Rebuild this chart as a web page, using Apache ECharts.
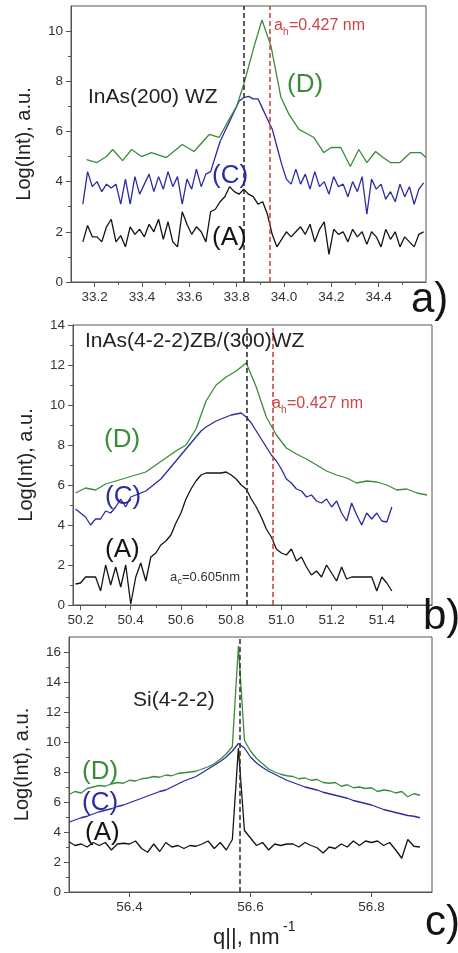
<!DOCTYPE html>
<html><head><meta charset="utf-8">
<script src="https://cdn.jsdelivr.net/npm/echarts@6/dist/echarts.min.js"></script>
<style>html,body{margin:0;padding:0;background:#fff}#c{width:458px;height:953px}</style>
</head><body><div id="c"></div><script>
// ---------- Panel a: InAs(200) WZ ----------
const aStart = 33.15, aStep = 0.02;
const aCurveA = [1.6,2.25,1.8,1.8,1.6,2.2,2.5,1.6,1.85,1.4,
 2.2,1.9,2.1,1.8,2.3,2.0,2.5,1.7,2.4,1.6,
 1.4,2.8,2.3,1.9,2.2,2.0,1.6,2.8,2.9,3.2,
 3.4,3.8,3.6,3.5,3.7,3.5,3.4,3.1,3.2,2.7,
 1.9,1.4,1.7,2.0,1.8,2.0,2.2,1.9,2.3,1.6,
 2.1,2.4,1.1,2.1,1.9,2.0,1.6,2.1,1.8,2.0,
 1.5,2.0,1.8,1.4,2.1,1.7,2.0,1.4,1.8,1.6,
 1.4,1.9,2.0];
const aCurveC = [3.1,4.4,3.8,4.0,3.6,3.9,3.75,3.9,3.1,4.1,
 3.1,4.2,3.5,3.9,4.3,3.6,4.2,3.7,4.4,3.8,
 4.2,3.1,4.1,3.7,4.5,3.8,4.3,4.4,5.0,5.6,
 6.0,6.4,6.8,7.2,7.35,7.4,7.3,7.3,6.9,6.5,
 6.1,5.4,4.7,4.1,3.9,4.5,3.9,4.3,3.7,4.4,
 3.8,4.0,3.5,4.2,3.8,3.9,3.4,4.0,3.6,4.2,
 2.7,4.1,3.7,3.9,3.3,3.6,3.2,3.9,3.4,3.8,
 3.1,3.7,3.95];
const aCurveDx = [33.166,33.21,33.25,33.276,33.318,33.356,33.398,33.44,33.503,33.57,33.62,33.684,33.726,33.768,33.80,33.83,33.874,33.907,33.945,33.987,34.02,34.063,34.10,34.126,34.168,34.2,34.24,34.28,34.316,34.35,34.387,34.42,34.45,34.49,34.535,34.577,34.6];
const aCurveDy = [4.88,4.76,5.0,5.28,4.84,5.28,5.0,5.16,4.96,5.48,5.2,5.88,5.76,6.48,7.0,7.88,9.4,10.44,9.4,7.36,6.7,6.08,5.9,5.76,5.16,5.36,5.36,4.6,5.28,4.76,5.2,4.95,4.76,4.76,5.16,5.16,4.96];
const aRefBlack = 33.83, aRefRed = 33.94;
const aXTicks = [33.2,33.4,33.6,33.8,34.0,34.2,34.4];
const aXMinor = [33.3,33.5,33.7,33.9,34.1,34.3,34.5];
const aYTicks = [0,2,4,6,8,10];
const aYMinor = [1,3,5,7,9];

// ---------- Panel b: InAs(4-2-2)ZB/(300)WZ ----------
const bStart = 50.18, bStep = 0.02;
const bCurveA = [1.05,1.1,1.4,1.4,1.4,0.7,2.0,1.0,1.9,0.9,
 2.0,0.05,1.4,2.1,1.2,2.4,2.6,3.0,3.2,3.5,
 4.1,4.6,5.3,5.8,6.2,6.5,6.6,6.6,6.6,6.6,
 6.65,6.5,6.3,6.0,5.8,5.3,4.9,4.4,3.8,3.4,
 2.8,2.6,2.5,2.8,2.2,2.4,1.9,1.5,1.7,1.4,
 2.0,1.6,1.2,1.9,1.3,1.4,1.4,1.4,1.4,1.4,
 0.7,1.4,1.1,0.7];
const bCurveC = [4.8,4.6,4.4,4.0,4.3,4.3,4.7,4.6,4.9,5.3,
 4.9,5.4,5.5,5.6,5.7,5.9,6.1,6.3,6.6,6.9,
 7.2,7.5,7.8,8.1,8.4,8.7,8.9,9.05,9.2,9.3,
 9.4,9.5,9.55,9.6,9.4,9.1,8.7,8.3,7.9,7.5,
 7.2,6.8,6.3,6.1,5.8,5.7,5.4,5.5,5.2,5.1,
 5.3,4.9,5.2,4.6,4.2,5.1,4.5,4.0,4.6,4.3,
 4.6,4.2,4.15,4.9];
const bDStart = 50.18, bDStep = 0.04;
const bCurveD = [5.6,5.85,5.75,6.05,6.2,6.35,6.5,6.65,7.0,7.35,
 7.7,8.0,8.8,10.2,11.0,11.4,11.7,12.1,10.9,9.4,
 8.5,7.85,7.55,7.3,7.0,6.7,6.5,6.35,6.1,6.2,
 6.15,6.0,5.75,5.8,5.6,5.5];
const bRefBlack = 50.864, bRefRed = 50.964;
const bXTicks = [50.2,50.4,50.6,50.8,51.0,51.2,51.4];
const bXMinor = [50.3,50.5,50.7,50.9,51.1,51.3,51.5];
const bYTicks = [0,2,4,6,8,10,12,14];
const bYMinor = [1,3,5,7,9,11,13];

// ---------- Panel c: Si(4-2-2) ----------
const cStart = 56.30, cStep = 0.01;
const cCurveA = [3.35,3.1,3.2,3.0,3.3,3.1,3.3,2.8,3.2,3.25,
 3.2,3.4,2.9,2.65,3.2,2.7,3.3,3.0,3.1,2.9,
 3.1,3.05,3.2,3.4,2.9,3.3,2.8,3.5,9.6,4.1,
 3.6,3.1,3.3,2.8,3.2,3.1,3.2,3.2,3.0,3.3,
 3.1,2.95,2.6,3.0,2.9,3.2,3.0,3.4,3.1,3.4,
 3.3,3.4,3.1,3.3,2.8,2.25,3.5,3.05,3.0];
const cCurveC = [4.65,4.8,4.95,5.05,5.2,5.35,5.45,5.55,5.7,5.8,
 5.95,6.1,6.25,6.4,6.55,6.7,6.8,7.0,7.2,7.4,
 7.55,7.7,7.95,8.2,8.45,8.7,9.0,9.4,9.9,9.6,
 9.0,8.6,8.3,8.05,7.85,7.65,7.45,7.3,7.15,7.0,
 6.9,6.8,6.65,6.55,6.45,6.35,6.25,6.1,6.0,5.9,
 5.8,5.65,5.5,5.4,5.3,5.2,5.1,5.05,4.95];
const cCurveD = [6.5,6.7,6.6,6.9,7.0,7.1,7.05,7.2,7.3,7.25,
 7.45,7.4,7.55,7.6,7.7,7.65,7.8,7.75,7.9,7.95,
 8.0,8.05,8.2,8.35,8.55,8.85,9.2,9.7,16.4,10.1,
 9.4,8.9,8.55,8.2,8.0,7.85,7.75,7.7,7.55,7.6,
 7.45,7.5,7.3,7.25,7.3,7.05,7.15,6.95,7.0,6.9,
 6.95,6.7,6.8,6.75,6.6,6.7,6.35,6.55,6.45];
const cRefBlack = 56.582;
const cXTicks = [56.4,56.6,56.8];
const cXMinor = [56.5,56.7];
const cYTicks = [0,2,4,6,8,10,12,14,16];
const cYMinor = [1,3,5,7,9,11,13,15];

// ---------- helpers ----------
const GREEN = '#3a8c3a', BLUE = '#2b2ba3', BLACK = '#141414', RED = '#cc4444', TXT = '#222';
const FONT = '"Liberation Sans", Arial, sans-serif';
function onGrid(start, step, ys){ return ys.map((y,i)=>[+(start+i*step).toFixed(4), y]); }
function pairs(xs, ys){ return xs.map((x,i)=>[x, ys[i]]); }

const grids = [
  {left:71, right:32, top:6, height:276},
  {left:73, right:26, top:325, height:280},
  {left:69, right:26, top:637, height:255}
].map(g=>Object.assign(g,{show:true, borderColor:'#555', borderWidth:1, backgroundColor:'transparent'}));

const xRanges = [[33.1,34.6],[50.17,51.6],[56.3,56.9]];
const yMax = [11,14,17];
const xT = [aXTicks,bXTicks,cXTicks], xM=[aXMinor,bXMinor,cXMinor];
const yT = [aYTicks,bYTicks,cYTicks], yM=[aYMinor,bYMinor,cYMinor];

const xAxes = [], yAxes = [];
for (let i=0;i<3;i++){
  xAxes.push({gridIndex:i, type:'value', position:'bottom', min:xRanges[i][0], max:xRanges[i][1],
    axisLine:{show:true, onZero:false, lineStyle:{color:'#555'}},
    axisTick:{show:true, customValues:xT[i], length:5, lineStyle:{color:'#555'}},
    axisLabel:{customValues:xT[i], formatter:v=>(+v).toFixed(1), color:'#333', fontSize:13.5, fontFamily:FONT, margin:8},
    splitLine:{show:false}});
  xAxes.push({gridIndex:i, type:'value', position:'bottom', offset:0, min:xRanges[i][0], max:xRanges[i][1],
    axisLine:{show:false, onZero:false}, axisLabel:{show:false}, splitLine:{show:false},
    axisTick:{show:true, customValues:xM[i], length:3, lineStyle:{color:'#555'}}});
  yAxes.push({gridIndex:i, type:'value', position:'left', min:0, max:yMax[i],
    name:'Log(Int), a.u.', nameLocation:'middle', nameGap:37,
    nameTextStyle:{fontSize:20, color:TXT, fontFamily:FONT},
    axisLine:{show:true, onZero:false, lineStyle:{color:'#555'}},
    axisTick:{show:true, customValues:yT[i], length:5, lineStyle:{color:'#555'}},
    axisLabel:{customValues:yT[i], color:'#333', fontSize:13.5, fontFamily:FONT, margin:8},
    splitLine:{show:false}});
  yAxes.push({gridIndex:i, type:'value', position:'left', offset:0, min:0, max:yMax[i],
    axisLine:{show:false, onZero:false}, axisLabel:{show:false}, splitLine:{show:false},
    axisTick:{show:true, customValues:yM[i], length:3, lineStyle:{color:'#555'}}});
}

function line(panel, data, color, extra){
  return Object.assign({type:'line', xAxisIndex:panel*2, yAxisIndex:panel*2, data,
    showSymbol:false, symbol:'none', lineStyle:{color, width:1.3}, itemStyle:{color}, silent:true, z:3}, extra||{});
}
function vline(panel, x, color){
  return {type:'line', xAxisIndex:panel*2, yAxisIndex:panel*2, data:[], silent:true, z:5,
    markLine:{silent:true, symbol:['none','none'], animation:false, label:{show:false},
      lineStyle:{color, type:[5,3], width:1.6},
      data:[[{coord:[x,0]},{coord:[x,yMax[panel]]}]]}};
}

const series = [
  line(0, onGrid(aStart,aStep,aCurveA), BLACK),
  line(0, onGrid(aStart,aStep,aCurveC), BLUE),
  line(0, pairs(aCurveDx,aCurveDy), GREEN),
  vline(0, aRefBlack, '#333'),
  vline(0, aRefRed, RED),
  line(1, onGrid(bStart,bStep,bCurveA), BLACK),
  line(1, onGrid(bStart,bStep,bCurveC), BLUE),
  line(1, onGrid(bDStart,bDStep,bCurveD), GREEN),
  vline(1, bRefBlack, '#333'),
  vline(1, bRefRed, RED),
  line(2, onGrid(cStart,cStep,cCurveA), BLACK),
  line(2, onGrid(cStart,cStep,cCurveC), BLUE),
  line(2, onGrid(cStart,cStep,cCurveD), GREEN),
  vline(2, cRefBlack, '#333')
];

function T(x,y,text,size,color,align){
  return {type:'text', x, y, z:20, silent:true,
    style:{text, fontSize:size, fontFamily:FONT, fill:color||TXT, align:align||'left', verticalAlign:'middle'}};
}
const graphic = [
  // panel a
  T(88,97,'InAs(200) WZ',21,TXT),
  T(287,85,'(D)',26,GREEN),
  T(212,176,'(C)',26,BLUE),
  T(212,238,'(A)',26,BLACK),
  T(274,26,'a',16,RED), T(283,32,'h',10,RED), T(289,26,'=0.427 nm',16,RED),
  T(411,300,'a)',42,BLACK),
  // panel b
  T(85,341,'InAs(4-2-2)ZB/(300)WZ',21,TXT),
  T(104,440,'(D)',26,GREEN),
  T(105,497,'(C)',26,BLUE),
  T(105,550,'(A)',26,BLACK),
  T(272,404,'a',16,RED), T(281,410,'h',10,RED), T(287,404,'=0.427 nm',16,RED),
  T(170,577,'a',13,'#333'), T(177.5,582,'c',9,'#333'), T(182,577,'=0.605nm',13,'#333'),
  T(423,617,'b)',42,BLACK),
  // panel c
  T(133,700,'Si(4-2-2)',21,TXT),
  T(82,772,'(D)',26,GREEN),
  T(82,803,'(C)',26,BLUE),
  T(85,833,'(A)',26,BLACK),
  T(425,923,'c)',42,BLACK),
  T(213,938,'q||, nm',22,TXT), T(283,927,'-1',14,TXT)
];

const chart = echarts.init(document.getElementById('c'), null, {renderer:'canvas'});
chart.setOption({animation:false, backgroundColor:'#fff', grid:grids, xAxis:xAxes, yAxis:yAxes, series, graphic});
</script></body></html>
